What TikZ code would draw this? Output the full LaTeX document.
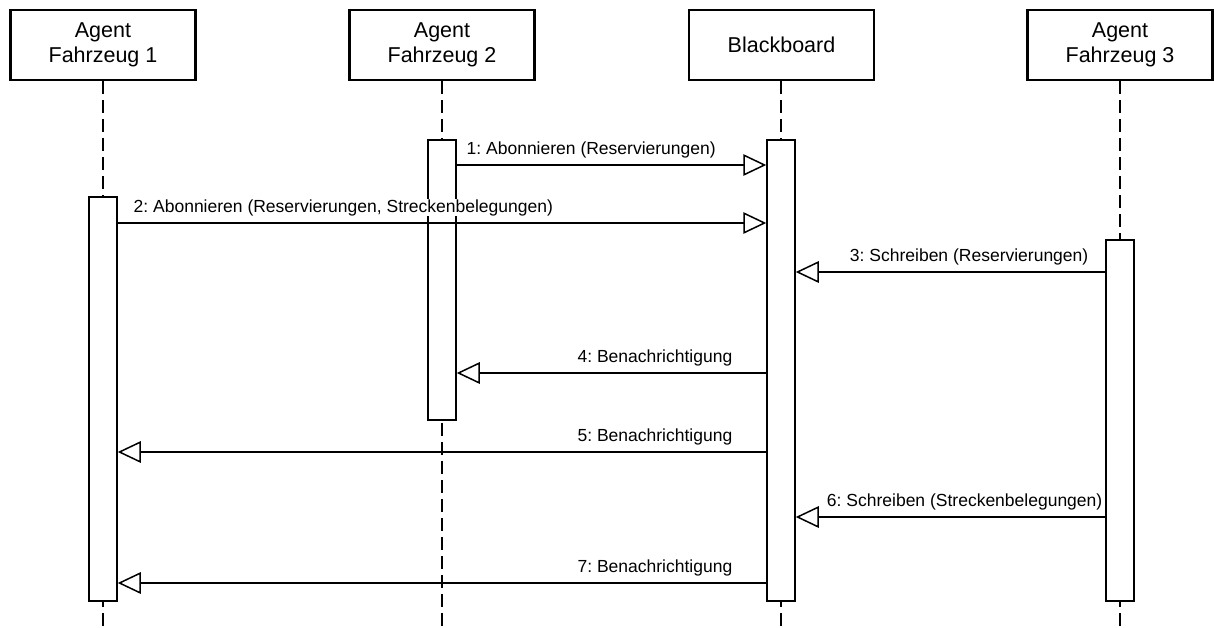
\documentclass[tikz,border=0pt]{standalone}
\usepackage{fontspec}
\setmainfont{Liberation Sans}
\usetikzlibrary{arrows.meta}
\frenchspacing
\begin{document}
\begin{tikzpicture}[x=1pt,y=-1pt,
  head/.style={draw, line width=2.2pt, fill=white, minimum width=185pt,
    minimum height=70pt, align=center, inner sep=0pt,
    font=\fontsize{21.5}{25}\selectfont},
  life/.style={line width=1.5pt, dash pattern=on 13pt off 6pt},
  bar/.style={draw, line width=1.5pt, fill=white, minimum width=28pt,
    anchor=north, inner sep=0pt},
  msg/.style={line width=1.5pt,
    -{Triangle[open, length=23pt, width=21.5pt, line width=1.5pt]}},
  lbl/.style={font=\fontsize{17.5}{20}\selectfont, inner sep=0.5pt, fill=white}]
\useasboundingbox (0,0) rectangle (1214,627);

% participants
\node[head] (h1) at (103,45)    {Agent\\Fahrzeug 1};
\node[head] (h2) at (442,45)    {Agent\\Fahrzeug 2};
\node[head] (hb) at (781.5,45)  {Blackboard};
\node[head] (h3) at (1120,45)   {Agent\\Fahrzeug 3};

% lifelines
\coordinate (e1) at (103,630);
\coordinate (e2) at (442,630);
\coordinate (eb) at (781,630);
\coordinate (e3) at (1120,630);
\draw[life] (h1.south) -- (e1);
\draw[life] (h2.south) -- (e2);
\draw[life] (hb.south -| eb) -- (eb);
\draw[life] (h3.south) -- (e3);

% activation bars
\node[bar, minimum height=404pt] (b1) at (103,196) {};
\node[bar, minimum height=280pt] (b2) at (442,139) {};
\node[bar, minimum height=461pt] (bb) at (781,139) {};
\node[bar, minimum height=361pt] (b3) at (1120,239) {};

% messages
\draw[msg] (b2.east |- 0,165) -- (bb.west |- 0,165);
\draw[msg] (b1.east |- 0,223) -- (bb.west |- 0,223);
\draw[msg] (b3.west |- 0,272) -- (bb.east |- 0,272);
\draw[msg] (bb.west |- 0,373) -- (b2.east |- 0,373);
\draw[msg] (bb.west |- 0,452) -- (b1.east |- 0,452);
\draw[msg] (b3.west |- 0,517) -- (bb.east |- 0,517);
\draw[msg] (bb.west |- 0,583) -- (b1.east |- 0,583);

% message labels
\node[lbl, anchor=base west] (m1) at (466,154)  {1: Abonnieren (Reservierungen)};
\node[lbl, anchor=base west] (m2) at (133,212)  {2: Abonnieren (Reservierungen, Streckenbelegungen)};
\node[lbl, anchor=base east] (m3) at (1089,261) {3: Schreiben (Reservierungen)};
\node[lbl, anchor=base east] (m4) at (733,362)  {4: Benachrichtigung};
\node[lbl, anchor=base east] (m5) at (733,441)  {5: Benachrichtigung};
\node[lbl, anchor=base east] (m6) at (1103,506) {6: Schreiben (Streckenbelegungen)};
\node[lbl, anchor=base east] (m7) at (733,572)  {7: Benachrichtigung};
\end{tikzpicture}
\end{document}
